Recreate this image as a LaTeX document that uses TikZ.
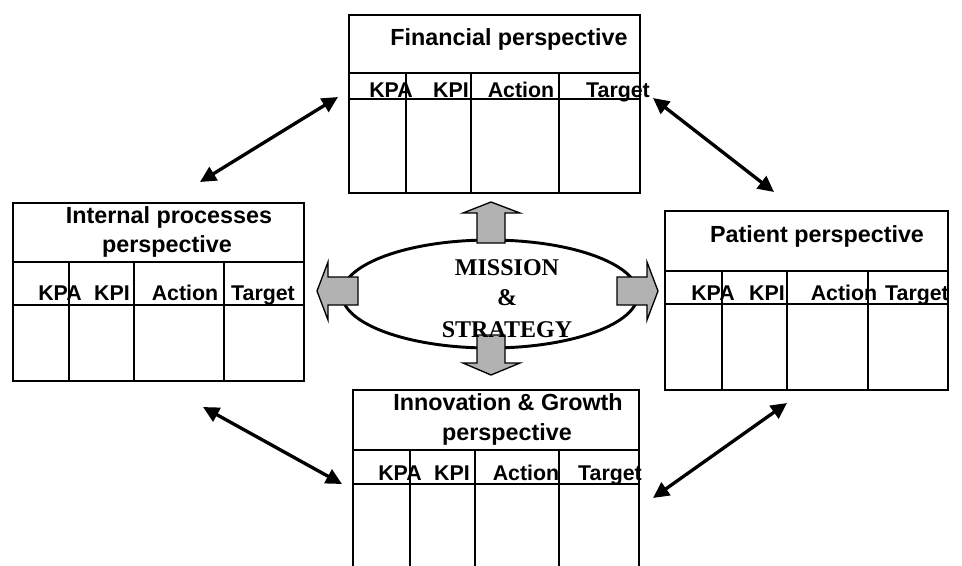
\documentclass[tikz,border=0pt]{standalone}
\usepackage{fontspec}
\setmainfont{Liberation Sans}
\newfontfamily\missionfont{Liberation Serif}
\usetikzlibrary{arrows.meta}

\begin{document}
\begin{tikzpicture}[x=0.75pt,y=-0.75pt,
    box/.style={line width=1.5pt},
    title/.style={font=\fontsize{17.5}{20}\selectfont\bfseries, anchor=base, inner sep=0pt},
    head/.style={font=\fontsize{16}{18}\selectfont\bfseries, anchor=base, inner sep=0pt},
    link/.style={{Triangle[length=12pt,width=11.5pt]}-{Triangle[length=12pt,width=11.5pt]}, line width=2.5pt},
    block/.style={fill=black!30, draw=black, line width=1pt}]
    \useasboundingbox (0,0) rectangle (962,565);

    % Financial perspective
    \draw[box] (349,15) rectangle (640,193);
    \draw[box] (349,73) -- (640,73);
    \draw[box] (349,99) -- (640,99);
    \draw[box] (406,73) -- (406,193);
    \draw[box] (471,73) -- (471,193);
    \draw[box] (559,73) -- (559,193);
    \node[title] (fin) at (509,45) {Financial perspective};
    \node[head] (finkpa) at (391,97) {KPA};
    \node[head] (finkpi) at (451,97) {KPI};
    \node[head] (finact) at (521,97) {Action};
    \node[head] (fintgt) at (618,97) {Target};

    % Internal processes perspective
    \draw[box] (13,203) rectangle (304,381);
    \draw[box] (13,262) -- (304,262);
    \draw[box] (13,305) -- (304,305);
    \draw[box] (69,262) -- (69,381);
    \draw[box] (134,262) -- (134,381);
    \draw[box] (224,262) -- (224,381);
    \node[title] (intl) at (169,223) {Internal processes};
    \node[title] (intl2) at (167,252) {perspective};
    \node[head] (intlkpa) at (60,300) {KPA};
    \node[head] (intlkpi) at (112,300) {KPI};
    \node[head] (intlact) at (185,300) {Action};
    \node[head] (intltgt) at (263,300) {Target};

    % Patient perspective
    \draw[box] (665,211) rectangle (948,390);
    \draw[box] (665,271) -- (948,271);
    \draw[box] (665,304) -- (948,304);
    \draw[box] (722,271) -- (722,390);
    \draw[box] (787,271) -- (787,390);
    \draw[box] (868,271) -- (868,390);
    \node[title] (pat) at (817,242) {Patient perspective};
    \node[head] (patkpa) at (713,300) {KPA};
    \node[head] (patkpi) at (767,300) {KPI};
    \node[head] (patact) at (844,300) {Action};
    \node[head] (pattgt) at (917,300) {Target};

    % Innovation & Growth perspective
    \draw[box] (353,567) -- (353,390) -- (639,390) -- (639,567);
    \draw[box] (353,450) -- (639,450);
    \draw[box] (353,484) -- (639,484);
    \draw[box] (410,450) -- (410,567);
    \draw[box] (475,450) -- (475,567);
    \draw[box] (559,450) -- (559,567);
    \node[title] (inno) at (508,410) {Innovation \& Growth};
    \node[title] (inno2) at (507,440) {perspective};
    \node[head] (innokpa) at (400,480) {KPA};
    \node[head] (innokpi) at (452,480) {KPI};
    \node[head] (innoact) at (526,480) {Action};
    \node[head] (innotgt) at (610,480) {Target};

    % mission and strategy
    \draw[line width=2.2pt] (490,294) ellipse [x radius=148, y radius=54];
    \draw[block] (477,243) -- (477,213) -- (463,213) -- (491,202) -- (520,213) -- (505,213) -- (505,243) -- cycle;
    \draw[block] (477,335) -- (477,363) -- (463,363) -- (491,375) -- (520,363) -- (505,363) -- (505,335) -- cycle;
    \draw[block] (358,277) -- (328,277) -- (328,262) -- (317,291) -- (328,320) -- (328,305) -- (358,305) -- cycle;
    \draw[block] (617,277) -- (647,277) -- (647,262) -- (658,291) -- (647,320) -- (647,305) -- (617,305) -- cycle;
    \node[font=\missionfont\fontsize{18}{20}\selectfont\bfseries, anchor=base, inner sep=0pt] (ms1) at (507,275) {MISSION};
    \node[font=\missionfont\fontsize{18}{20}\selectfont\bfseries, anchor=base, inner sep=0pt] (ms2) at (507,305) {\&};
    \node[font=\missionfont\fontsize{18}{20}\selectfont\bfseries, anchor=base, inner sep=0pt] (ms3) at (507,337) {STRATEGY};

    % links between perspectives
    \coordinate (fin-w) at (338,97);
    \coordinate (fin-e) at (653,98);
    \coordinate (intl-n) at (200,182);
    \coordinate (intl-s) at (203,407);
    \coordinate (pat-n) at (774,192);
    \coordinate (pat-s) at (787,403);
    \coordinate (inno-w) at (342,484);
    \coordinate (inno-e) at (653,498);
    \draw[link] (intl-n) -- (fin-w);
    \draw[link] (fin-e) -- (pat-n);
    \draw[link] (intl-s) -- (inno-w);
    \draw[link] (inno-e) -- (pat-s);
\end{tikzpicture}
\end{document}
